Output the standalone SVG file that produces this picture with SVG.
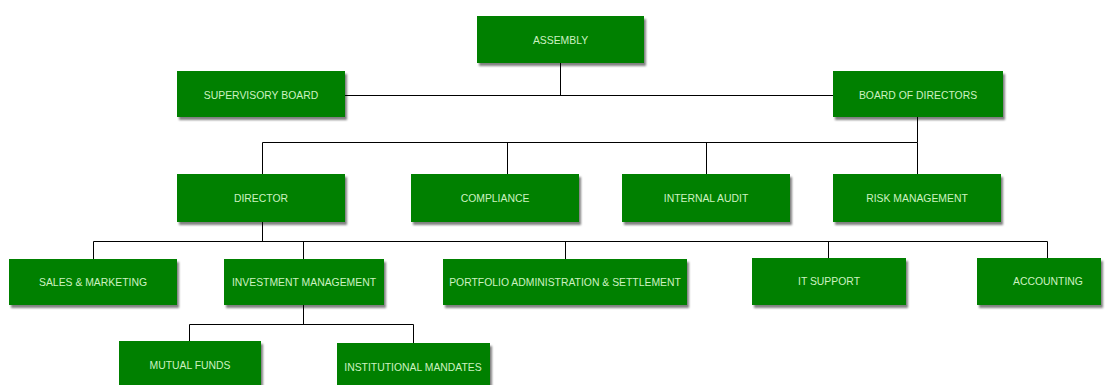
<svg xmlns="http://www.w3.org/2000/svg" width="1109" height="385" viewBox="0 0 1109 385">
<defs>
<filter id="sh" x="-10%" y="-10%" width="130%" height="140%">
<feGaussianBlur in="SourceAlpha" stdDeviation="1.2"/>
<feOffset dx="2" dy="3" result="b"/>
<feComponentTransfer><feFuncA type="linear" slope="0.5"/></feComponentTransfer>
<feMerge><feMergeNode/><feMergeNode in="SourceGraphic"/></feMerge>
</filter>
</defs>
<style>
.box{fill:#008000;filter:url(#sh)}
.lbl{font-family:"Liberation Sans",Arial,sans-serif;font-size:10.4px;fill:#cdf2c0;text-anchor:middle;dominant-baseline:central}
.con{stroke:#000;stroke-width:1;fill:none}
</style>
<rect width="1109" height="385" fill="#fff"/>
<g id="connectors" class="con">
<path d="M560.5 63V95.5M345 95.5H833"/>
<path d="M917.5 117V142.5M262.5 142.5H917.5M262.5 142.5V174M507.5 142.5V174M706.5 142.5V174M917.5 142.5V174"/>
<path d="M262.5 222V241.5M93.5 241.5H1047.5M93.5 241.5V259M303.5 241.5V259M565.5 241.5V259M828.5 241.5V258M1047.5 241.5V259"/>
<path d="M303.5 305V324.5M189.5 324.5H413.5M189.5 324.5V341M413.5 324.5V343"/>
</g>
<g id="assembly"><rect class="box" x="477" y="16" width="167" height="47"/><text class="lbl" x="560.5" y="40">ASSEMBLY</text></g>
<g id="supervisory-board"><rect class="box" x="177" y="71" width="168" height="46"/><text class="lbl" x="261" y="95">SUPERVISORY BOARD</text></g>
<g id="board-of-directors"><rect class="box" x="833" y="71" width="170" height="46"/><text class="lbl" x="918" y="95">BOARD OF DIRECTORS</text></g>
<g id="director"><rect class="box" x="177" y="174" width="168" height="48"/><text class="lbl" x="261" y="198">DIRECTOR</text></g>
<g id="compliance"><rect class="box" x="411" y="174" width="168" height="48"/><text class="lbl" x="495" y="198">COMPLIANCE</text></g>
<g id="internal-audit"><rect class="box" x="622" y="174" width="168" height="48"/><text class="lbl" x="706" y="198">INTERNAL AUDIT</text></g>
<g id="risk-management"><rect class="box" x="833" y="174" width="168" height="48"/><text class="lbl" x="917" y="198">RISK MANAGEMENT</text></g>
<g id="sales-marketing"><rect class="box" x="9" y="259" width="168" height="46"/><text class="lbl" x="93" y="282">SALES &amp; MARKETING</text></g>
<g id="investment-management"><rect class="box" x="224" y="259" width="160" height="46"/><text class="lbl" x="304" y="282">INVESTMENT MANAGEMENT</text></g>
<g id="portfolio-admin"><rect class="box" x="443" y="259" width="244" height="46"/><text class="lbl" x="565" y="282">PORTFOLIO ADMINISTRATION &amp; SETTLEMENT</text></g>
<g id="it-support"><rect class="box" x="752" y="258" width="154" height="47"/><text class="lbl" x="829" y="281">IT SUPPORT</text></g>
<g id="accounting"><rect class="box" x="977" y="258" width="124" height="47"/><text class="lbl" x="1048" y="281">ACCOUNTING</text></g>
<g id="mutual-funds"><rect class="box" x="119" y="341" width="142" height="50"/><text class="lbl" x="190" y="365">MUTUAL FUNDS</text></g>
<g id="institutional-mandates"><rect class="box" x="337" y="343" width="153" height="48"/><text class="lbl" x="413" y="367">INSTITUTIONAL MANDATES</text></g>
</svg>
